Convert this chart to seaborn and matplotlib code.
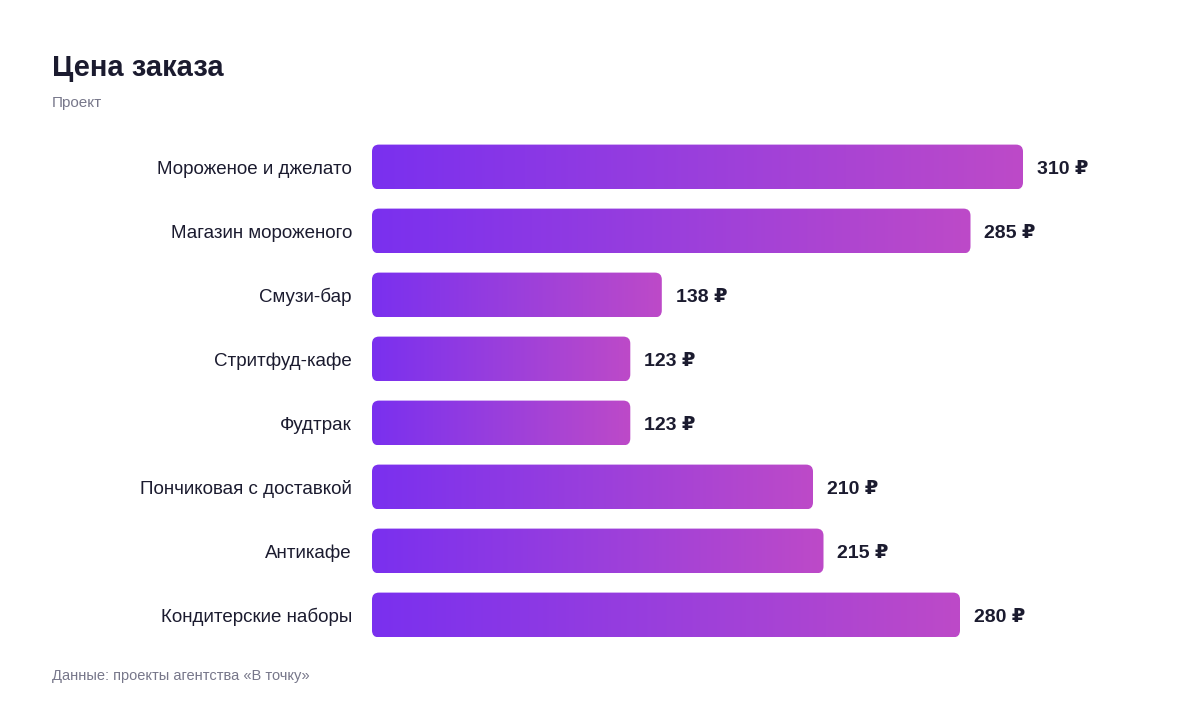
import numpy as np
import pandas as pd
import matplotlib
matplotlib.use('Agg')
import matplotlib.pyplot as plt
import seaborn as sns
from matplotlib.patches import FancyBboxPatch
from matplotlib.colors import LinearSegmentedColormap

# данные
categories = ['Мороженое и джелато', 'Магазин мороженого', 'Смузи-бар', 'Стритфуд-кафе',
              'Фудтрак', 'Пончиковая с доставкой', 'Антикафе', 'Кондитерские наборы']
prices = [310, 285, 138, 123, 123, 210, 215, 280]

title = 'Цена заказа'
subtitle = 'Проект'
source = 'Данные: проекты агентства «В точку»'

df = pd.DataFrame({'cat': categories, 'price': prices})

sns.set_theme(style='white')
plt.rcParams['font.family'] = ['Liberation Sans', 'DejaVu Sans']

dark = '#1b1b2f'
grey = '#77778a'
grad = LinearSegmentedColormap.from_list('g', ['#7a30ef', '#9a3fdc', '#bd4ac8'])

fig = plt.figure(figsize=(12, 7.12), dpi=100)
ax = fig.add_axes([372 / 1200, 1 - 647 / 712, 735 / 1200, 512 / 712])

sns.barplot(data=df, x='price', y='cat', orient='h', width=0.7, color='#7a30ef', ax=ax)
ax.set_xlim(0, 350)
ax.set_ylim(7.5, -0.5)

# градиент + скругление вместо обычных прямоугольников
r = 7 / 2.1
aspect = (7 / 64) / r
grad_img = np.linspace(0, 1, 256).reshape(1, -1)
for bar in list(ax.patches):
    x0, y0 = bar.get_x(), bar.get_y()
    w, h = bar.get_width(), bar.get_height()
    bar.set_visible(False)
    box = FancyBboxPatch((x0, y0), w, h, boxstyle=f'round,pad=0,rounding_size={r}',
                         mutation_aspect=aspect, facecolor='none', edgecolor='none')
    ax.add_patch(box)
    im = ax.imshow(grad_img, cmap=grad, aspect='auto', extent=(x0, x0 + w, y0 + h, y0),
                   interpolation='bicubic', zorder=2)
    im.set_clip_path(box)
    ax.annotate(f'{int(w)} ₽', (x0 + w, y0 + h / 2), xytext=(10, -1.5), textcoords='offset points',
                ha='left', va='center', fontsize=14, fontweight='bold', color=dark)

ax.set_xlim(0, 350)
ax.set_ylim(7.5, -0.5)
ax.set_xlabel('')
ax.set_ylabel('')
ax.set_xticks([])
ax.tick_params(axis='y', length=0, pad=14.4, labelsize=13.5, labelcolor=dark)
sns.despine(ax=ax, left=True, bottom=True)

fig.text(52 / 1200, 1 - 68 / 712, title, fontsize=21, fontweight='bold', color=dark, va='center')
fig.text(52 / 1200, 1 - 103 / 712, subtitle, fontsize=11, color=grey, va='center')
fig.text(52 / 1200, 1 - 676 / 712, source, fontsize=10.5, color=grey, va='center')

fig.savefig('out.png', dpi=100)
